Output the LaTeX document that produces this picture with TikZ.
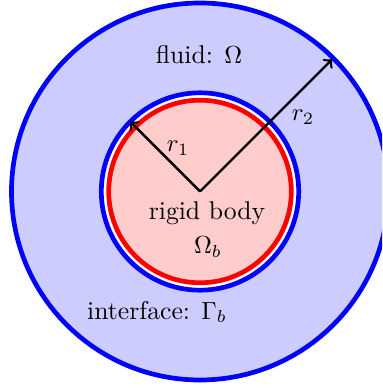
\documentclass[tikz,border=0pt]{standalone}
\usetikzlibrary{calc}
\begin{document}
\begin{tikzpicture}[x=0.405pt,y=0.405pt,
  ring/.style={line width=1.9pt},
  radius arrow/.style={->,line width=1pt,black},
  lbl/.style={inner sep=0pt,font=\fontsize{10.4}{12.5}\selectfont}]
\useasboundingbox (0,0) rectangle (382,388);
\clip (0,0) rectangle (382,388);
\coordinate (O) at (200,196.5);
\draw[ring,blue,fill=blue!20] (O) circle[radius=188.5];
\draw[ring,blue,fill=white] (O) circle[radius=98.7];
\draw[ring,red,fill=red!20] (O) circle[radius=91.3];
\coordinate (R1) at ($(O)+(135:99)$);
\coordinate (R2) at ($(O)+(45:187)$);
\draw[radius arrow] (O) -- (R1);
\draw[radius arrow] (O) -- (R2);
\node[lbl] (fluid) at (199,333) {fluid: $\Omega$};
\node[lbl] (r2) at (303,271) {$r_2$};
\node[lbl] (r1) at (178,240) {$r_1$};
\node[lbl] (body) at (207,175) {rigid body};
\node[lbl] (omegab) at (208,141) {$\Omega_b$};
\node[lbl] (iface) at (157,76) {interface: $\Gamma_b$};
\end{tikzpicture}
\end{document}
